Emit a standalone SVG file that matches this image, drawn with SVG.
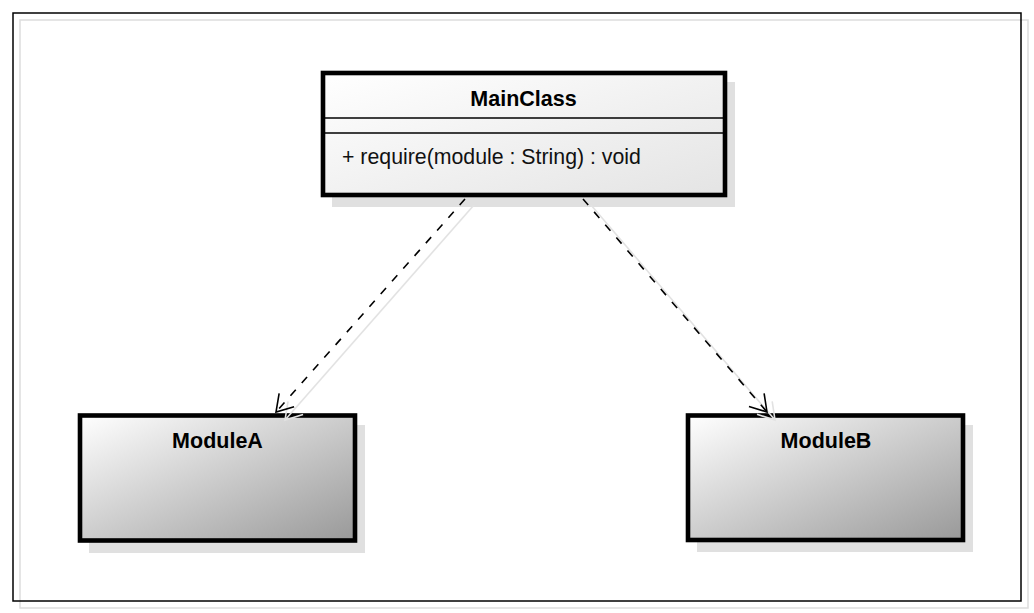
<svg xmlns="http://www.w3.org/2000/svg" width="1034" height="613" viewBox="0 0 1034 613">
  <defs>
    <linearGradient id="gMain" x1="0" y1="0" x2="1" y2="1">
      <stop offset="0" stop-color="#ffffff"/>
      <stop offset="1" stop-color="#e4e4e4"/>
    </linearGradient>
    <linearGradient id="gMod" x1="0" y1="0" x2="1" y2="1">
      <stop offset="0" stop-color="#ffffff"/>
      <stop offset="1" stop-color="#999999"/>
    </linearGradient>
    <marker id="arr" markerUnits="userSpaceOnUse" markerWidth="40" markerHeight="40" viewBox="-20 -20 40 40" refX="0" refY="0" orient="auto">
      <path d="M -16 -10 L 0 0 L -16 10" fill="none" stroke="#000" stroke-width="1.6" stroke-dasharray="none"/>
    </marker>
    <marker id="arrS" markerUnits="userSpaceOnUse" markerWidth="40" markerHeight="40" viewBox="-20 -20 40 40" refX="0" refY="0" orient="auto">
      <path d="M -16 -10 L 0 0 L -16 10" fill="none" stroke="#e2e2e2" stroke-width="1.6"/>
    </marker>
  </defs>
  <style>
    .frameS { fill: none; stroke: #dddddd; stroke-width: 1.5; }
    .frame { fill: none; stroke: #000; stroke-width: 1.5; }
    .shadow { fill: #e0e0e0; stroke: none; }
    .box { stroke: #000; stroke-width: 4.6; }
    .sep { stroke: #000; stroke-width: 1.5; }
    .title { font-family: "Liberation Sans", Arial, sans-serif; font-size: 21.5px; font-weight: bold; text-anchor: middle; fill: #000; }
    .member { font-family: "Liberation Sans", Arial, sans-serif; font-size: 21.3px; fill: #111; }
    .dep { fill: none; stroke: #000; stroke-width: 1.6; stroke-dasharray: 8 9; }
    .depS { fill: none; stroke: #e2e2e2; stroke-width: 1.6; }
  </style>
  <rect x="0" y="0" width="1034" height="613" fill="#fff"/>
  <rect class="frameS" x="20" y="20" width="1008" height="588"/>
  <rect class="frame" x="13" y="13" width="1008" height="588"/>

  <g id="MainClass">
    <rect class="shadow" x="332" y="82" width="403" height="125"/>
    <rect class="box" x="323" y="73" width="402" height="122" fill="url(#gMain)"/>
    <line class="sep" x1="323" y1="118" x2="725" y2="118"/>
    <line class="sep" x1="323" y1="133" x2="725" y2="133"/>
    <text class="title" x="523.5" y="105.5">MainClass</text>
    <text class="member" x="342" y="163.5">+ require(module : String) : void</text>
  </g>

  <g id="ModuleA">
    <rect class="shadow" x="89" y="425" width="276" height="128"/>
    <rect class="box" x="80" y="415.5" width="275" height="125" fill="url(#gMod)"/>
    <text class="title" x="217.5" y="447.5">ModuleA</text>
  </g>

  <g id="ModuleB">
    <rect class="shadow" x="697" y="425" width="276" height="127"/>
    <rect class="box" x="688" y="415.5" width="275" height="124.5" fill="url(#gMod)"/>
    <text class="title" x="826" y="447.5">ModuleB</text>
  </g>

  <g id="connectors">
    <line class="depS" x1="474" y1="205" x2="285" y2="420" marker-end="url(#arrS)"/>
    <line class="depS" x1="591" y1="205" x2="775" y2="420" marker-end="url(#arrS)"/>
    <line class="dep" x1="465" y1="199" x2="276" y2="412" marker-end="url(#arr)"/>
    <line class="dep" x1="583" y1="199" x2="767" y2="412" marker-end="url(#arr)"/>
  </g>
</svg>
